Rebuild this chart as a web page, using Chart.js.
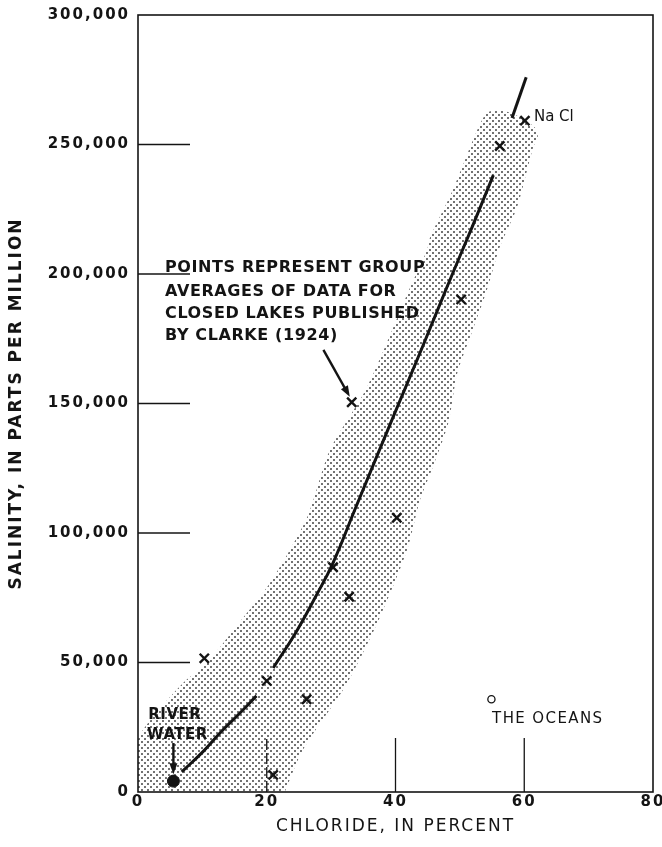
<!DOCTYPE html>
<html>
<head>
<meta charset="utf-8">
<script src="https://cdn.jsdelivr.net/npm/chart.js@4.4.1/dist/chart.umd.min.js"></script>
<style>
  html, body { margin: 0; padding: 0; background: #fff; }
</style>
</head>
<body>
<canvas id="salinityChart" width="662" height="847"></canvas>
<script>
// Closed lakes, group averages (Clarke, 1924)
const lakeChloride = [10.3, 20.0, 21.0, 26.2, 30.3, 32.8, 33.2, 40.2, 50.2, 56.2, 60.1];
const lakeSalinity = [51600, 42900, 6600, 35800, 86800, 75400, 150500, 105900, 190200, 249400, 259200];

// River water and the oceans
const riverChloride = [5.5];
const riverSalinity = [4200];
const oceanChloride = [54.9];
const oceanSalinity = [35800];

// Trend curve (broken at the point near 20 percent, null = gap)
const curveChloride = [6.8, 10.1, 12.7, 15.8, 18.4, 19.7, 21.0, 24.5, 27.5, 30.3, 33.6, 39.9, 44.2, 48.0, 51.9, 55.2];
const curveSalinity = [7800, 15600, 22700, 30400, 37100, null, 47900, 61500, 75000, 88500, 108500, 146400, 171900, 195000, 218100, 238200];

// short line toward NaCl
const naclChloride = [58.1, 60.3];
const naclSalinity = [260200, 276000];

// stippled band, left edge up then right edge down
const bandChloride = [0, 0, 2.3, 7.0, 10.7, 15.8, 20.5, 26.3, 29.8, 35.6, 42.3, 44.9, 45.4, 48.9, 52.7, 54.2, 56.2, 59.3, 61.7, 62.1,
                      61.4, 58.9, 56.2, 54.2, 52.0, 49.6, 48.2, 45.8, 43.8, 41.8, 37.6, 32.5, 25.6, 22.8];
const bandSalinity = [0, 20100, 29000, 42100, 49800, 65600, 80700, 106200, 132000, 156400, 195000, 209300, 214300, 232400, 255600, 262200, 263300, 260600, 256400, 252900,
                      249000, 225900, 210400, 193800, 178400, 161800, 142500, 125500, 112700, 93400, 67600, 42100, 16200, 0];

// axis ticks
const xTicks = [0, 20, 40, 60, 80];
const yTicks = [0, 50000, 100000, 150000, 200000, 250000, 300000];

const toPoints = (xs, ys) => xs.map((v, i) => ({ x: v, y: ys[i] }));

// Dot screen for the band
function stipple() {
    const c = document.createElement('canvas');
    c.width = 6;
    c.height = 6;
    const g = c.getContext('2d');
    g.fillStyle = '#383838';
    [[1, 1], [4, 4]].forEach(([px, py]) => {
        g.beginPath();
        g.arc(px, py, 0.95, 0, Math.PI * 2);
        g.fill();
    });
    return g.createPattern(c, 'repeat');
}

const INK = '#141414';
const LETTER = '"DejaVu Sans", sans-serif';

// Text labels and pointers, placed in data units
const notes = [
    { text: 'POINTS REPRESENT GROUP', x: 4.2, y: 200900, font: 'bold 16px ' + LETTER, spacing: 0.6 },
    { text: 'AVERAGES OF DATA FOR', x: 4.2, y: 191500, font: 'bold 16px ' + LETTER, spacing: 0.6 },
    { text: 'CLOSED LAKES PUBLISHED', x: 4.2, y: 182900, font: 'bold 16px ' + LETTER, spacing: 0.6 },
    { text: 'BY CLARKE (1924)', x: 4.2, y: 174500, font: 'bold 16px ' + LETTER, spacing: 0.6 },
    { text: 'RIVER', x: 1.6, y: 28200, font: 'bold 15px ' + LETTER, spacing: 0.5 },
    { text: 'WATER', x: 1.4, y: 20500, font: 'bold 15px ' + LETTER, spacing: 0.5 },
    { text: 'THE OCEANS', x: 55.0, y: 26600, font: '15px ' + LETTER, spacing: 1.4 },
    { text: 'Na Cl', x: 61.5, y: 259100, font: '15px ' + LETTER, spacing: 0 }
];
const arrows = [
    { from: [28.8, 170700], to: [32.9, 152600] },
    { from: [5.5, 18900], to: [5.5, 6900] }
];

const decorations = {
    id: 'decorations',
    beforeDraw(chart) {
        // the lettering on the original is widely spaced
        chart.ctx.letterSpacing = '2px';
    },
    afterDatasetsDraw(chart) {
        const { ctx, chartArea: a, scales: { x, y } } = chart;
        ctx.save();
        ctx.strokeStyle = INK;
        ctx.fillStyle = INK;

        // frame
        ctx.lineWidth = 1.6;
        ctx.strokeRect(a.left, a.top, a.right - a.left, a.bottom - a.top);

        // long inward ticks
        ctx.lineWidth = 1.3;
        yTicks.slice(1, -1).forEach(v => {
            const py = y.getPixelForValue(v);
            ctx.beginPath();
            ctx.moveTo(a.left, py);
            ctx.lineTo(a.left + 52, py);
            ctx.stroke();
        });
        xTicks.slice(1, -1).forEach(v => {
            const px = x.getPixelForValue(v);
            ctx.setLineDash(v === 20 ? [11, 3] : []);
            ctx.beginPath();
            ctx.moveTo(px, a.bottom);
            ctx.lineTo(px, a.bottom - 54);
            ctx.stroke();
        });
        ctx.setLineDash([]);

        // pointers
        ctx.lineWidth = 2.4;
        arrows.forEach(ar => {
            const x0 = x.getPixelForValue(ar.from[0]), y0 = y.getPixelForValue(ar.from[1]);
            const x1 = x.getPixelForValue(ar.to[0]), y1 = y.getPixelForValue(ar.to[1]);
            const ang = Math.atan2(y1 - y0, x1 - x0);
            ctx.beginPath();
            ctx.moveTo(x0, y0);
            ctx.lineTo(x1 - Math.cos(ang) * 6, y1 - Math.sin(ang) * 6);
            ctx.stroke();
            ctx.beginPath();
            ctx.moveTo(x1, y1);
            ctx.lineTo(x1 - Math.cos(ang) * 11 + Math.sin(ang) * 4, y1 - Math.sin(ang) * 11 - Math.cos(ang) * 4);
            ctx.lineTo(x1 - Math.cos(ang) * 11 - Math.sin(ang) * 4, y1 - Math.sin(ang) * 11 + Math.cos(ang) * 4);
            ctx.closePath();
            ctx.fill();
        });

        // text
        ctx.textBaseline = 'alphabetic';
        ctx.textAlign = 'left';
        notes.forEach(n => {
            ctx.font = n.font;
            ctx.letterSpacing = n.spacing + 'px';
            ctx.fillText(n.text, x.getPixelForValue(n.x), y.getPixelForValue(n.y));
        });
        ctx.restore();
    }
};

const ctx = document.getElementById('salinityChart').getContext('2d');

const salinityChart = new Chart(ctx, {
    type: 'scatter',
    data: {
        datasets: [
            {
                label: 'band',
                data: toPoints(bandChloride, bandSalinity),
                showLine: true,
                fill: 'shape',
                backgroundColor: stipple(),
                borderColor: 'rgba(0,0,0,0)',
                borderWidth: 1,
                tension: 0.25,
                pointRadius: 0,
                order: 5
            },
            {
                label: 'curve',
                data: toPoints(curveChloride, curveSalinity),
                showLine: true,
                spanGaps: false,
                borderColor: INK,
                borderWidth: 3,
                tension: 0.45,
                pointRadius: 0,
                order: 3
            },
            {
                label: 'NaCl',
                data: toPoints(naclChloride, naclSalinity),
                showLine: true,
                borderColor: INK,
                borderWidth: 3,
                pointRadius: 0,
                order: 3
            },
            {
                label: 'Closed lakes',
                data: toPoints(lakeChloride, lakeSalinity),
                pointStyle: 'crossRot',
                pointRadius: 6.5,
                borderColor: INK,
                borderWidth: 2.4,
                order: 1
            },
            {
                label: 'River water',
                data: toPoints(riverChloride, riverSalinity),
                pointStyle: 'circle',
                pointRadius: 6,
                backgroundColor: INK,
                borderColor: INK,
                order: 1
            },
            {
                label: 'The oceans',
                data: toPoints(oceanChloride, oceanSalinity),
                pointStyle: 'circle',
                pointRadius: 3.6,
                backgroundColor: '#fff',
                borderColor: INK,
                borderWidth: 1.3,
                order: 1
            }
        ]
    },
    options: {
        responsive: false,
        animation: false,
        layout: {
            padding: { top: 15, right: 9, left: 0, bottom: 0 }
        },
        plugins: {
            legend: { display: false },
            tooltip: { enabled: false }
        },
        scales: {
            x: {
                type: 'linear',
                min: 0,
                max: 80,
                afterFit: s => {
                    s.height = 55;
                    s.paddingLeft = 0;
                    s.paddingRight = 0;
                },
                afterBuildTicks: s => { s.ticks = xTicks.map(v => ({ value: v })); },
                grid: { display: false, drawTicks: false },
                border: { display: false },
                ticks: {
                    color: INK,
                    padding: 1,
                    font: { family: LETTER, size: 15, weight: 'bold' }
                },
                title: {
                    display: true,
                    text: 'CHLORIDE, IN PERCENT',
                    color: INK,
                    padding: { top: 0, bottom: 10 },
                    font: { family: LETTER, size: 17, weight: 'normal' }
                }
            },
            y: {
                min: 0,
                max: 300000,
                afterFit: s => {
                    s.width = 138;
                    s.paddingTop = 0;
                    s.paddingBottom = 0;
                },
                afterBuildTicks: s => { s.ticks = yTicks.map(v => ({ value: v })); },
                grid: { display: false, drawTicks: false },
                border: { display: false },
                ticks: {
                    color: INK,
                    padding: 8,
                    font: { family: LETTER, size: 15, weight: 'bold' },
                    callback: value => value.toLocaleString('en-US')
                },
                title: {
                    display: true,
                    text: 'SALINITY, IN PARTS PER MILLION',
                    color: INK,
                    padding: { top: 6, bottom: 0 },
                    font: { family: LETTER, size: 17, weight: 'bold' }
                }
            }
        }
    },
    plugins: [decorations]
});
</script>
</body>
</html>
